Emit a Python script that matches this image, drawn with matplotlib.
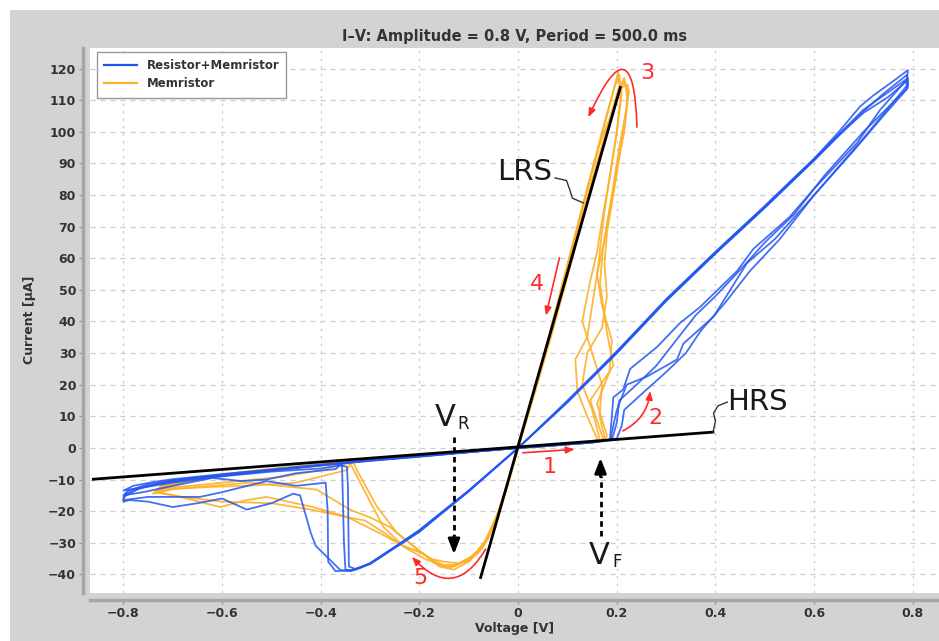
import numpy as np
import matplotlib
matplotlib.use("Agg")
import matplotlib.pyplot as plt
from matplotlib.patches import Rectangle

# ---- data (V in volts, I in uA) ----
blue_loops = [
    [(0, 0), (0.05, 0.5), (0.1, 1.1), (0.15, 1.7), (0.186, 2.6), (0.19, 10), (0.193, 16), (0.213, 18.5),
     (0.227, 25), (0.282, 32), (0.328, 39.5), (0.369, 44.6), (0.444, 56), (0.477, 63), (0.55, 73), (0.6, 82),
     (0.687, 96.5), (0.734, 107), (0.788, 116.5), (0.79, 119.5), (0.76, 116), (0.72, 111.5), (0.693, 108),
     (0.65, 100), (0.6, 91.5), (0.5, 76.5), (0.4, 62), (0.3, 47), (0.2, 30.5), (0.1, 14.5), (0, 0),
     (-0.1, -13.5), (-0.2, -26), (-0.25, -31.5), (-0.3, -36.5), (-0.33, -38.3), (-0.343, -37.5), (-0.345, -12),
     (-0.347, -6), (-0.36, -5.5), (-0.4, -6.5), (-0.5, -7.5), (-0.6, -9), (-0.7, -11), (-0.78, -13), (-0.8, -13.5),
     (-0.78, -12), (-0.74, -10.8), (-0.7, -9.9), (-0.6, -8.3), (-0.5, -6.8), (-0.4, -5.3), (-0.3, -3.9),
     (-0.2, -2.6), (-0.1, -1.3), (0, 0)],
    [(0, 0), (0.05, 0.6), (0.1, 1.2), (0.15, 1.8), (0.188, 2.8), (0.19, 5), (0.2, 12), (0.22, 20), (0.26, 22.5),
     (0.3, 26), (0.322, 28), (0.335, 33), (0.396, 41.5), (0.464, 58.5), (0.52, 66), (0.6, 80), (0.68, 94),
     (0.74, 105), (0.788, 113.5), (0.787, 116), (0.75, 111), (0.7, 106), (0.65, 99), (0.6, 91), (0.5, 76),
     (0.4, 61.5), (0.3, 46.5), (0.2, 30), (0.1, 14.5), (0, 0), (-0.1, -13.5), (-0.2, -26.5), (-0.3, -36.8),
     (-0.34, -38.8), (-0.35, -38.5), (-0.353, -30), (-0.357, -5), (-0.37, -6.7), (-0.45, -8), (-0.51, -10),
     (-0.56, -10.5), (-0.62, -9.5), (-0.7, -12), (-0.76, -14), (-0.8, -15), (-0.79, -13.5), (-0.75, -11.5),
     (-0.7, -10.2), (-0.6, -8.5), (-0.5, -7), (-0.4, -5.5), (-0.3, -4), (-0.2, -2.7), (-0.1, -1.3), (0, 0)],
    [(0, 0), (0.05, 0.5), (0.1, 1.1), (0.15, 1.7), (0.19, 2.5), (0.2, 8), (0.205, 15), (0.24, 20), (0.28, 26),
     (0.33, 36), (0.36, 42), (0.4, 48), (0.46, 58), (0.5, 65), (0.56, 74), (0.62, 86), (0.7, 100), (0.79, 114),
     (0.79, 117), (0.75, 112.5), (0.7, 107), (0.6, 91.5), (0.5, 76.5), (0.4, 62), (0.3, 47), (0.2, 30.5),
     (0.1, 15), (0, 0), (-0.1, -13.8), (-0.2, -26.5), (-0.3, -36.5), (-0.33, -38.5), (-0.37, -39),
     (-0.385, -36), (-0.386, -20), (-0.39, -11), (-0.45, -12), (-0.51, -10.5), (-0.6, -14), (-0.645, -15.5),
     (-0.75, -15.5), (-0.8, -16.5), (-0.795, -14.5), (-0.76, -12.3), (-0.7, -10.5), (-0.6, -8.8),
     (-0.5, -7.2), (-0.4, -5.6), (-0.3, -4.1), (-0.2, -2.8), (-0.1, -1.4), (0, 0)],
    [(0, 0), (0.05, 0.6), (0.1, 1.2), (0.15, 1.8), (0.2, 3), (0.21, 7), (0.215, 12), (0.25, 17), (0.3, 24),
     (0.34, 30), (0.37, 37), (0.42, 46), (0.47, 56), (0.53, 66), (0.6, 80), (0.7, 98), (0.79, 115),
     (0.788, 118), (0.74, 112), (0.7, 106.5), (0.6, 91), (0.5, 76), (0.4, 61.5), (0.3, 46.5), (0.2, 30),
     (0.1, 14.5), (0, 0), (-0.1, -13.5), (-0.2, -26), (-0.3, -36.5), (-0.32, -38), (-0.34, -39),
     (-0.36, -38.7), (-0.41, -31), (-0.42, -27), (-0.442, -15), (-0.456, -14.5), (-0.5, -17.5),
     (-0.55, -19.5), (-0.6, -16), (-0.65, -17.5), (-0.7, -18.7), (-0.75, -17), (-0.787, -16.5), (-0.8, -17),
     (-0.8, -15.5), (-0.77, -13), (-0.72, -11), (-0.65, -9.5), (-0.55, -7.9), (-0.45, -6.3), (-0.35, -4.7),
     (-0.25, -3.3), (-0.15, -2), (0, 0)],
]

orange_loops = [
    [(0, 0), (0.05, 0.5), (0.1, 1.1), (0.14, 1.6), (0.16, 2.5), (0.16, 3), (0.14, 10), (0.12, 18), (0.116, 28),
     (0.14, 35), (0.152, 47), (0.162, 57), (0.166, 63), (0.175, 75), (0.19, 90), (0.2, 100), (0.207, 110),
     (0.203, 119), (0.19, 111), (0.17, 99), (0.14, 82), (0.1, 58), (0.06, 34), (0.03, 16), (0, 0),
     (-0.02, -11), (-0.04, -21), (-0.06, -28.5), (-0.08, -33), (-0.1, -35.5), (-0.13, -37.5), (-0.15, -37.5),
     (-0.17, -36), (-0.205, -32), (-0.245, -27), (-0.286, -18.6), (-0.327, -7), (-0.334, -4.5), (-0.4, -7),
     (-0.48, -9.2), (-0.6, -11), (-0.685, -12.3), (-0.73, -13), (-0.72, -11.5), (-0.68, -10), (-0.6, -8.3),
     (-0.5, -6.6), (-0.4, -5.1), (-0.3, -3.7), (-0.2, -2.4), (-0.1, -1.2), (0, 0)],
    [(0, 0), (0.05, 0.5), (0.1, 1.1), (0.14, 1.6), (0.165, 2), (0.172, 3), (0.146, 15), (0.193, 26),
     (0.18, 36.5), (0.166, 52), (0.172, 63), (0.185, 75), (0.2, 88), (0.215, 100), (0.222, 110), (0.215, 117),
     (0.2, 112), (0.18, 101), (0.15, 85), (0.11, 62), (0.07, 38), (0.035, 19), (0, 0), (-0.02, -11.5),
     (-0.045, -23), (-0.07, -31), (-0.1, -35), (-0.12, -36.5), (-0.14, -38), (-0.165, -36), (-0.2, -33),
     (-0.233, -31), (-0.273, -25), (-0.3, -17), (-0.34, -5), (-0.347, -7), (-0.45, -11), (-0.55, -12),
     (-0.62, -12.3), (-0.7, -13), (-0.735, -14), (-0.72, -12), (-0.68, -10.3), (-0.6, -8.5), (-0.5, -6.8),
     (-0.4, -5.2), (-0.3, -3.8), (-0.2, -2.5), (-0.1, -1.2), (0, 0)],
    [(0, 0), (0.05, 0.5), (0.1, 1.1), (0.14, 1.6), (0.16, 2), (0.165, 3), (0.15, 12), (0.13, 20), (0.14, 30),
     (0.17, 38), (0.18, 48), (0.175, 58), (0.18, 68), (0.195, 82), (0.21, 97), (0.22, 108), (0.222, 115),
     (0.21, 114), (0.19, 106), (0.165, 96), (0.13, 76), (0.095, 55), (0.06, 33), (0.03, 16), (0, 0),
     (-0.025, -13), (-0.05, -25), (-0.075, -32), (-0.1, -36), (-0.13, -38.5), (-0.16, -37.5),
     (-0.192, -33.4), (-0.233, -31), (-0.28, -27), (-0.347, -21.8), (-0.416, -18.7), (-0.51, -15.5),
     (-0.55, -16.5), (-0.604, -18.7), (-0.685, -15.5), (-0.73, -14.2), (-0.71, -12.3), (-0.66, -10.2),
     (-0.6, -8.9), (-0.5, -7.1), (-0.4, -5.4), (-0.3, -3.9), (-0.2, -2.6), (-0.1, -1.3), (0, 0)],
    [(0, 0), (0.05, 0.5), (0.1, 1.1), (0.14, 1.6), (0.17, 2), (0.175, 3.5), (0.165, 10), (0.17, 20),
     (0.15, 30), (0.13, 40), (0.145, 52), (0.16, 62), (0.17, 72), (0.185, 85), (0.2, 100), (0.21, 112),
     (0.205, 118), (0.195, 114), (0.175, 103), (0.145, 85), (0.105, 60), (0.065, 36), (0.03, 17), (0, 0),
     (-0.02, -10.5), (-0.04, -20), (-0.065, -29), (-0.09, -34), (-0.12, -36.5), (-0.15, -36), (-0.18, -35),
     (-0.22, -30), (-0.26, -25), (-0.3, -22), (-0.34, -19.6), (-0.408, -13.2), (-0.543, -11), (-0.62, -12),
     (-0.7, -13), (-0.74, -14.5), (-0.725, -12.5), (-0.69, -10.6), (-0.6, -8.6), (-0.5, -6.9), (-0.4, -5.3),
     (-0.3, -3.8), (-0.2, -2.5), (-0.1, -1.2), (0, 0)],
    [(0, 0), (0.05, 0.5), (0.1, 1.1), (0.14, 1.6), (0.175, 2.2), (0.18, 4), (0.16, 14), (0.185, 24),
     (0.19, 34), (0.17, 45), (0.16, 55), (0.175, 66), (0.19, 80), (0.205, 95), (0.218, 106), (0.225, 113),
     (0.215, 116), (0.2, 110), (0.18, 100), (0.15, 84), (0.11, 60), (0.07, 37), (0.035, 18), (0, 0),
     (-0.022, -12), (-0.045, -22.5), (-0.07, -30.5), (-0.1, -35.5), (-0.13, -37), (-0.16, -37), (-0.19, -35),
     (-0.23, -31.5), (-0.27, -27), (-0.31, -23), (-0.35, -21.8), (-0.42, -19.5), (-0.5, -17.5), (-0.6, -17),
     (-0.68, -15.5), (-0.73, -14), (-0.715, -12.4), (-0.67, -10.5), (-0.6, -8.7), (-0.5, -7), (-0.4, -5.4),
     (-0.3, -3.9), (-0.2, -2.5), (-0.1, -1.3), (0, 0)],
]

# fitted resistance lines (end points)
lrs_v = [-0.076, 0.207]
lrs_i = [-41, 114]
hrs_v = [-0.861, 0.395]
hrs_i = [-9.9, 5.0]

x_ticks = [-0.8, -0.6, -0.4, -0.2, 0, 0.2, 0.4, 0.6, 0.8]
x_ticklabels = ['\u22120.8', '\u22120.6', '\u22120.4', '\u22120.2', '0', '0.2', '0.4', '0.6', '0.8']
y_ticks = list(range(-40, 121, 10))

blue = '#2456f2'
orange = '#fcb12a'
red = '#ff2a2a'

W, H = 939, 641
fig = plt.figure(figsize=(W / 100, H / 100), dpi=100, facecolor='white')
fig.patches.append(Rectangle((10 / W, 0), 1, (H - 10) / H, transform=fig.transFigure,
                             facecolor='#d3d3d3', edgecolor='none', zorder=-10))
ax = fig.add_axes([90 / W, 1 - 592.7 / H, 1 - 90 / W, (592.7 - 47.7) / H])
ax.set_facecolor('white')

for loop in orange_loops:
    v, i = zip(*loop)
    ax.plot(v, i, color=orange, lw=1.3, alpha=0.9, zorder=2)
for loop in blue_loops:
    v, i = zip(*loop)
    ax.plot(v, i, color=blue, lw=1.3, alpha=0.85, zorder=3)
ax.plot([], [], color=blue, lw=1.6, label='Resistor+Memristor')
ax.plot([], [], color=orange, lw=1.6, label='Memristor')

ax.plot(lrs_v, lrs_i, color='black', lw=2, zorder=5)
ax.plot(hrs_v, hrs_i, color='black', lw=2, zorder=5)

ax.set_xlim(-0.8677, 0.853)
ax.set_ylim(-45.8, 126.6)
ax.set_xticks(x_ticks)
ax.set_xticklabels(x_ticklabels)
ax.set_yticks(y_ticks)
ax.set_yticklabels(['\u2212%d' % -t if t < 0 else '%d' % t for t in y_ticks])

ax.grid(True, axis='y', color='#cccccc', lw=0.9, linestyle=(0, (4, 4)), zorder=0)
ax.grid(True, axis='x', color='#cccccc', lw=0.9, linestyle=(0, (2, 4)), zorder=0)
ax.set_axisbelow(True)

for s in ['top', 'right']:
    ax.spines[s].set_visible(False)
for s in ['left', 'bottom']:
    ax.spines[s].set_position(('outward', 5))
    ax.spines[s].set_color('#a6a6a6')
    ax.spines[s].set_linewidth(2.5)
ax.tick_params(length=3, width=1, color='#9a9a9a', labelsize=9, labelcolor='#333333', pad=2)
for lab in ax.get_xticklabels() + ax.get_yticklabels():
    lab.set_fontweight('bold')

ax.set_title('I\u2013V: Amplitude = 0.8 V, Period = 500.0 ms', fontsize=10.5, fontweight='bold',
             color='#333333', pad=5)
ax.set_xlabel('Voltage [V]', fontsize=9, fontweight='bold', color='#333333', labelpad=2)
ax.set_ylabel('Current [\u00b5A]', fontsize=9, fontweight='bold', color='#333333', labelpad=9)

leg = ax.legend(loc='upper left', bbox_to_anchor=(0.008, 0.992), borderaxespad=0, fancybox=False,
                fontsize=8.5, handlelength=2.8, labelspacing=0.45, borderpad=0.6, framealpha=1)
leg.get_frame().set_edgecolor('#999999')
leg.get_frame().set_linewidth(1)
for t in leg.get_texts():
    t.set_color('#333333')
    t.set_fontweight('bold')

# ---- annotations ----
txt = dict(color='#1a1a1a', ha='center', va='center', zorder=8)
ax.text(0.014, 87.3, 'LRS', fontsize=21, **txt)
ax.plot([0.075, 0.098, 0.105, 0.11, 0.132], [85.4, 84.6, 81.5, 79, 77.5], color='#333333', lw=1, zorder=8)
ax.text(0.485, 14.5, 'HRS', fontsize=21, **txt)
ax.plot([0.395, 0.4, 0.396, 0.405, 0.424], [5, 8.5, 11, 13.3, 14.5], color='#333333', lw=1, zorder=8)

ax.text(-0.148, 9.5, 'V', fontsize=22, **txt)
ax.text(-0.112, 7.6, 'R', fontsize=12, **txt)
ax.text(0.164, -34, 'V', fontsize=22, **txt)
ax.text(0.2, -36, 'F', fontsize=12, **txt)

# dashed black arrows
ax.plot([-0.13, -0.13], [3.5, -28], color='black', lw=2, linestyle=(0, (2, 1.5)), zorder=8)
ax.annotate('', xy=(-0.13, -34.5), xytext=(-0.13, -27),
            arrowprops=dict(arrowstyle='-|>,head_length=0.9,head_width=0.35', color='black', lw=2), zorder=8)
ax.plot([0.167, 0.167], [-28, -9], color='black', lw=2, linestyle=(0, (2, 1.5)), zorder=8)
ax.annotate('', xy=(0.167, -2.3), xytext=(0.167, -10),
            arrowprops=dict(arrowstyle='-|>,head_length=0.9,head_width=0.35', color='black', lw=2), zorder=8)

# red step arrows
rp = dict(arrowstyle='-|>,head_length=0.5,head_width=0.2', color=red, lw=1.2)
ax.annotate('', xy=(0.12, -0.4), xytext=(0.004, -1.6), arrowprops=rp, zorder=9)
ax.annotate('', xy=(0.268, 18.9), xytext=(0.207, 5), arrowprops=dict(rp, connectionstyle='arc3,rad=0.3'), zorder=9)
ax.annotate('', xy=(0.14, 103.8), xytext=(0.241, 100.6), arrowprops=dict(rp, connectionstyle='arc3,rad=2.2'), zorder=9)
ax.annotate('', xy=(0.055, 41), xytext=(0.085, 61), arrowprops=rp, zorder=9)
ax.annotate('', xy=(-0.219, -33.8), xytext=(-0.063, -31.3), arrowprops=dict(rp, connectionstyle='arc3,rad=-0.7'), zorder=9)

rtxt = dict(color=red, fontsize=16, ha='center', va='center', zorder=9)
ax.text(0.063, -6, '1', **rtxt)
ax.text(0.278, 9.5, '2', **rtxt)
ax.text(0.261, 118.6, '3', **rtxt)
ax.text(0.038, 52, '4', **rtxt)
ax.text(-0.199, -41.1, '5', **rtxt)

fig.savefig('out.png', dpi=100, facecolor=fig.get_facecolor())
